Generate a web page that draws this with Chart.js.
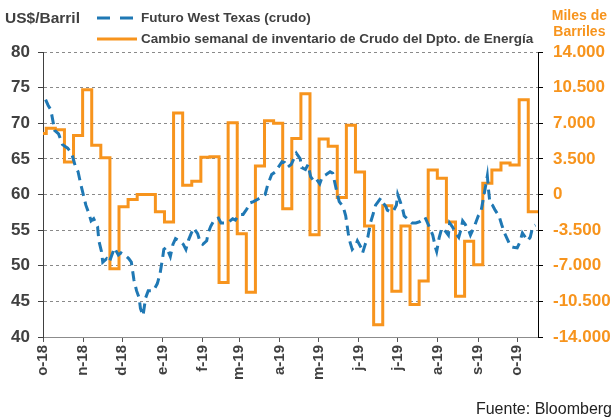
<!DOCTYPE html>
<html lang="es">
<head>
    <meta charset="UTF-8">
    <title>WTI e inventarios de crudo</title>
    <script src="https://cdn.jsdelivr.net/npm/chart.js"></script>
    <style>
        body { margin: 0; background: #fff; }
        #box { position: relative; width: 615px; height: 420px; font-family: 'Liberation Sans', Arial, sans-serif; }
        #box canvas { position: absolute; left: 0; top: 0; }
        .t { position: absolute; font-weight: bold; color: #404040; white-space: nowrap; line-height: 1; }
    </style>
</head>
<body>
<div id="box">
    <canvas id="myChart" width="615" height="420"></canvas>

    <div class="t" style="left:5px;top:10px;font-size:15.5px">US$/Barril</div>
    <svg style="position:absolute;left:95px;top:10px" width="45" height="40">
        <line x1="2" y1="8" x2="40" y2="8" stroke="#1F78B4" stroke-width="3" stroke-dasharray="13 10"/>
        <line x1="2" y1="29" x2="42" y2="29" stroke="#F7941D" stroke-width="3"/>
    </svg>
    <div class="t" style="left:141px;top:11px;font-size:13.5px">Futuro West Texas (crudo)</div>
    <div class="t" style="left:141px;top:32px;font-size:13.5px">Cambio semanal de inventario de Crudo del Dpto. de Energía</div>
    <div class="t" style="right:8px;top:7px;font-size:14px;line-height:16px;color:#F7941D;text-align:center">Miles de<br>Barriles</div>
    <div style="position:absolute;right:3px;top:400px;font-size:16px;color:#222">Fuente: Bloomberg</div>
</div>

<script>
    // eje x: dias desde el 1 de octubre de 2018
    const monthDays = [0, 31, 61, 92, 123, 151, 182, 212, 243, 273, 304, 335, 365];
    const monthLabels = ['o-18', 'n-18', 'd-18', 'e-19', 'f-19', 'm-19', 'a-19', 'm-19', 'j-19', 'j-19', 'a-19', 's-19', 'o-19'];
    const lastDay = 381;

    // futuro WTI (US$/barril)
    const wtiDays = [
        2, 4, 6, 9, 12, 15, 19, 22, 25, 27,
        29, 31, 33, 35, 37, 39, 42, 43, 45, 46,
        49, 51, 53, 55, 58, 60, 63, 66, 68, 70,
        72, 74, 75, 77, 79, 81, 85, 88, 90, 92,
        93, 95, 98, 100, 102, 105, 108, 110, 112, 114,
        116, 119, 121, 123, 126, 127, 129, 132, 135, 137,
        140, 142, 146, 148, 151, 154, 157, 159, 162, 165,
        168, 171, 173, 176, 179, 181, 184, 186, 188, 191,
        193, 195, 198, 199, 202, 204, 206, 208, 210, 213,
        215, 218, 221, 223, 226, 228, 231, 233, 235, 236,
        238, 241, 242, 245, 246, 248, 250, 252, 254, 256,
        258, 260, 262, 264, 265, 268, 270, 272, 273, 275,
        277, 278, 281, 284, 287, 290, 292, 294, 296, 298,
        300, 302, 303, 305, 307, 309, 312, 313, 315, 318,
        320, 322, 323, 325, 328, 329, 332, 333, 335, 337,
        338, 340, 342, 343, 344, 346, 348, 351, 353, 355,
        358, 360, 362, 365, 367, 369, 372, 373, 375, 377, 379
    ];
    const wtiPrices = [
        73.3, 72.5, 71.9, 69.0, 68.5, 67.0, 66.5, 65.8, 63.9, 63.2,
        61.5, 60.0, 58.5, 57.5, 56.3, 56.6, 55.5, 53.5, 52.0, 50.5,
        51.0, 50.5, 51.5, 52.5, 51.5, 51.8, 51.5, 51.0, 50.5, 48.0,
        46.5, 45.5, 44.0, 43.0, 45.5, 46.5, 46.5, 47.5, 48.8, 51.0,
        52.3, 52.6, 51.3, 53.0, 53.8, 53.5, 53.0, 52.3, 53.6, 54.5,
        55.3, 54.5, 53.3, 53.0, 53.5, 54.5, 55.5, 56.5, 56.7, 56.0,
        56.0, 56.0, 56.6, 56.4, 57.2, 57.2, 58.0, 58.8, 59.0, 59.3,
        59.6, 60.0, 61.4, 62.8, 63.2, 63.8, 64.6, 64.5, 63.8, 64.2,
        65.0, 65.8, 65.0, 63.8, 63.5, 64.2, 62.5, 62.0, 62.3, 61.5,
        62.5, 62.8, 63.2, 63.0, 60.5, 59.0, 58.3, 57.0, 54.5, 53.5,
        52.3, 53.0, 53.5, 52.5, 51.8, 53.0, 54.0, 56.0, 57.2, 58.5,
        59.0, 59.5, 58.8, 58.3, 57.8, 57.5, 57.8, 58.5, 60.0, 59.0,
        57.8, 57.0, 56.5, 56.0, 56.0, 56.2, 56.5, 56.8, 56.0, 55.2,
        54.3, 52.6, 52.0, 54.0, 55.3, 55.0, 54.3, 56.0, 55.5, 54.5,
        54.0, 55.3, 56.3, 55.8, 54.8, 54.3, 55.5, 56.0, 57.0, 57.5,
        58.5, 60.5, 62.6, 60.5, 58.8, 58.5, 57.8, 57.0, 55.8, 54.7,
        53.5, 52.7, 52.6, 52.5, 53.3, 54.6, 53.8, 53.5, 54.0, 55.5, 55.7
    ];

    // cambio semanal de inventario (miles de barriles), una semana por valor
    const invFirstWeekDay = 2.5;
    const invChange = [
        6000, 6500, 6350, 3200, 5800, 10300, 4850, 3600, -7300, -1200,
        -500, 0, 0, -1700, -2700, 8000, 900, 1300, 3650, 3700,
        -8650, 7050, -3850, -9600, 2800, 7250, 7000, -1400, 5500, 9900,
        -3950, 5450, 4750, -300, 6800, 2200, -3100, -12800, -1100, -9500,
        -3100, -10800, -8500, 2400, 1600, -2700, -10000, -4600, -6900, 1100,
        2400, 3100, 2900, 9300, -1700
    ];

    const leftTicks = { min: 40, max: 80, step: 5 };
    const rightTicks = { min: -14000, max: 14000, step: 3500 };

    const blue = '#1F78B4';
    const orange = '#F7941D';
    const textGray = '#404040';

    const wtiData = wtiDays.map((d, i) => ({ x: d, y: wtiPrices[i] }));
    const invData = invChange.map((v, i) => ({ x: i === 0 ? 0 : invFirstWeekDay + 7 * (i - 1), y: v }));
    invData.push({ x: lastDay, y: invChange[invChange.length - 1] });

    function miles(v) {
        const s = String(Math.abs(v)).replace(/\B(?=(\d{3})+(?!\d))/g, '.');
        return (v < 0 ? '-' : '') + s;
    }

    const config = {
        type: 'line',
        data: {
            datasets: [
                {
                    label: 'Futuro West Texas (crudo)',
                    data: wtiData,
                    yAxisID: 'y',
                    borderColor: blue,
                    borderWidth: 3,
                    borderDash: [10, 6],
                    pointRadius: 0,
                    tension: 0,
                    order: 0
                },
                {
                    label: 'Cambio semanal de inventario de Crudo del Dpto. de Energía',
                    data: invData,
                    yAxisID: 'y1',
                    borderColor: orange,
                    borderWidth: 3,
                    stepped: true,
                    pointRadius: 0,
                    order: 1
                }
            ]
        },
        options: {
            responsive: false,
            animation: false,
            devicePixelRatio: 1,
            layout: { padding: { top: 52, left: 0, right: 0, bottom: 0 } },
            plugins: { legend: { display: false }, tooltip: { enabled: false } },
            scales: {
                x: {
                    type: 'linear',
                    min: 0,
                    max: lastDay,
                    afterBuildTicks: (scale) => {
                        scale.ticks = monthDays.map(v => ({ value: v }));
                    },
                    afterFit: (scale) => { scale.height = 83; },
                    ticks: {
                        autoSkip: false,
                        minRotation: 90,
                        maxRotation: 90,
                        padding: 3,
                        color: textGray,
                        font: { family: 'Liberation Sans', size: 15, weight: 'bold' },
                        callback: (value) => monthLabels[monthDays.indexOf(value)]
                    },
                    grid: { drawOnChartArea: false, drawTicks: true, tickLength: 5, color: '#555' },
                    border: { color: '#8c8c8c', width: 1 }
                },
                y: {
                    position: 'left',
                    min: leftTicks.min,
                    max: leftTicks.max,
                    afterFit: (scale) => { scale.width = 43; },
                    ticks: {
                        stepSize: leftTicks.step,
                        padding: 8,
                        color: textGray,
                        font: { family: 'Liberation Sans', size: 17, weight: 'bold' }
                    },
                    grid: { color: '#8a8a8a', lineWidth: 1, tickLength: 5, tickColor: textGray },
                    border: { color: textGray, width: 1, dash: [3, 3] }
                },
                y1: {
                    position: 'right',
                    min: rightTicks.min,
                    max: rightTicks.max,
                    afterFit: (scale) => { scale.width = 77; },
                    ticks: {
                        stepSize: rightTicks.step,
                        padding: 10,
                        color: orange,
                        font: { family: 'Liberation Sans', size: 17, weight: 'bold' },
                        callback: (value) => miles(value)
                    },
                    grid: { drawOnChartArea: false, tickLength: 5, tickColor: '#000' },
                    border: { color: '#000', width: 1 }
                }
            }
        }
    };

    const ctx = document.getElementById('myChart').getContext('2d');
    const chart = new Chart(ctx, config);
</script>
</body>
</html>
